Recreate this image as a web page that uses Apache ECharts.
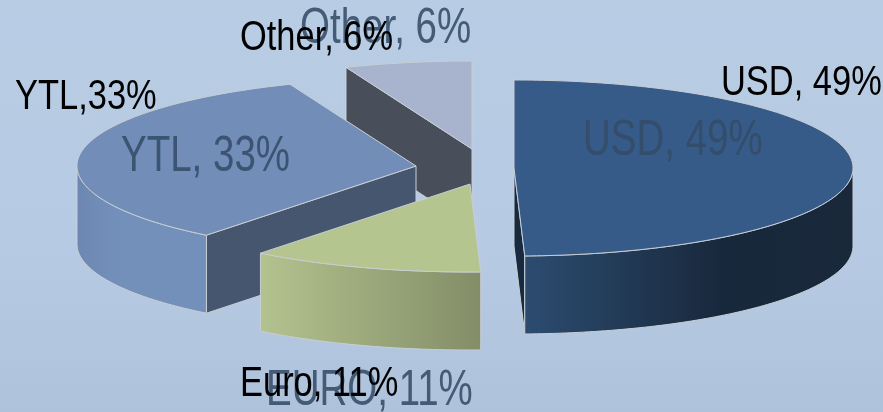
<!DOCTYPE html>
<html>
<head>
<meta charset="utf-8">
<style>html,body{margin:0;padding:0;background:#b6cbe3}#c{width:883px;height:412px}</style>
<script src="https://cdn.jsdelivr.net/npm/echarts@6/dist/echarts.min.js"></script>
</head>
<body>
<div id="c"></div>
<script>
// Currency split of the portfolio, clockwise from twelve o'clock
const categories = ['USD', 'Euro', 'YTL', 'Other'];
const shares = [49, 11, 33, 6];
const outerLabels = ['USD, 49%', 'Euro, 11%', 'YTL,33%', 'Other, 6%'];
const innerLabels = ['USD, 49%', 'EURO, 11%', 'YTL, 33%', 'Other, 6%'];

// Tilted-disc projection and how far each wedge is pulled out of the pie
const pieCentre = [470, 168];
const radiusX = 339, radiusY = 88, thickness = 78;
const explode = [[44, 0], [0, 16], [-54, -2], [2, -19]];
const paintOrder = [3, 0, 2, 1];

const G = (stops) => new echarts.graphic.LinearGradient(0, 0, 1, 0,
  stops.map((s) => ({ offset: s[0], color: s[1] })));
const looks = [
  { top: '#365b88', cut: '#172a3f', rim: G([[0, '#2c4c70'], [0.6, '#18283c'], [1, '#19293a']]) },
  { top: '#b4c590', cut: '#848e68', rim: G([[0, '#b3c38f'], [1, '#838d67']]) },
  { top: '#718db8', cut: '#46566f', rim: G([[0, '#6b87b2'], [0.3, '#7390bb'], [1, '#7390bb']]) },
  { top: '#a8b4cd', cut: '#484f5a', rim: '#484f5a' }
];
const edge = { stroke: '#c8ced4', lineWidth: 1 };

const total = shares.reduce((a, b) => a + b, 0);
const starts = shares.map((_, i) => shares.slice(0, i).reduce((a, b) => a + b, 0));

function renderWedge(params, api) {
  const i = api.value(0);
  const from = starts[i] / total * 360;
  const to = from + api.value(1) / total * 360;
  const cx = pieCentre[0] + explode[i][0];
  const cy = pieCentre[1] + explode[i][1];
  const at = (deg, drop) => {
    const r = deg * Math.PI / 180;
    return [cx + radiusX * Math.sin(r), cy - radiusY * Math.cos(r) + (drop || 0)];
  };
  const arc = (a, b, drop) => {
    const pts = [];
    const n = Math.max(2, Math.ceil(Math.abs(b - a)));
    for (let k = 0; k <= n; k++) pts.push(at(a + (b - a) * k / n, drop));
    return pts;
  };
  const look = looks[i];
  const children = [];
  // radial cut faces, only those turned towards the viewer
  const facing = [];
  if (Math.sin(from * Math.PI / 180) < -1e-6) facing.push(from);
  if (Math.sin(to * Math.PI / 180) > 1e-6) facing.push(to);
  facing.forEach((deg) => {
    children.push({
      type: 'polygon',
      shape: { points: [[cx, cy], at(deg), at(deg, thickness), [cx, cy + thickness]] },
      style: Object.assign({ fill: look.cut }, edge)
    });
  });
  // outer rim, only the part on the near half of the disc
  const a = Math.max(from, 90), b = Math.min(to, 270);
  if (b > a) {
    children.push({
      type: 'polygon',
      shape: { points: arc(a, b).concat(arc(b, a, thickness)) },
      style: Object.assign({ fill: look.rim }, edge)
    });
  }
  // top surface
  children.push({
    type: 'polygon',
    shape: { points: [[cx, cy]].concat(arc(from, to)) },
    style: Object.assign({ fill: look.top }, edge)
  });
  return { type: 'group', children };
}

// Left edge and vertical centre of each caption, in label order
const innerPlace = [[583, 141], [266, 391], [121, 157], [300, 29]];
const outerPlace = [[721, 83], [240, 384], [15, 97], [240, 38]];

function caption(text, place, size, squeeze, color, z) {
  return {
    type: 'text', x: place[0], y: place[1], scaleX: squeeze, z, silent: true,
    style: { text, fill: color, font: size + 'px "Liberation Sans", Arial, sans-serif', verticalAlign: 'middle', align: 'left' }
  };
}

const chart = echarts.init(document.getElementById('c'), null, { renderer: 'canvas' });
chart.setOption({
  animation: false,
  backgroundColor: new echarts.graphic.LinearGradient(0, 0, 0, 1, [
    { offset: 0, color: '#b8cde4' }, { offset: 0.6, color: '#b6cbe3' }, { offset: 1, color: '#afc2db' }
  ]),
  series: [{
    type: 'custom',
    silent: true,
    coordinateSystem: 'none',
    renderItem: renderWedge,
    dimensions: ['slice', 'share', 'name'],
    data: paintOrder.map((i) => [i, shares[i], categories[i]])
  }],
  graphic: innerLabels.map((t, i) => caption(t, innerPlace[i], 50, 0.77, 'rgba(52,75,102,0.88)', 10))
    .concat(outerLabels.map((t, i) => caption(t, outerPlace[i], 42, 0.82, '#000000', 11)))
});
</script>
</body>
</html>
